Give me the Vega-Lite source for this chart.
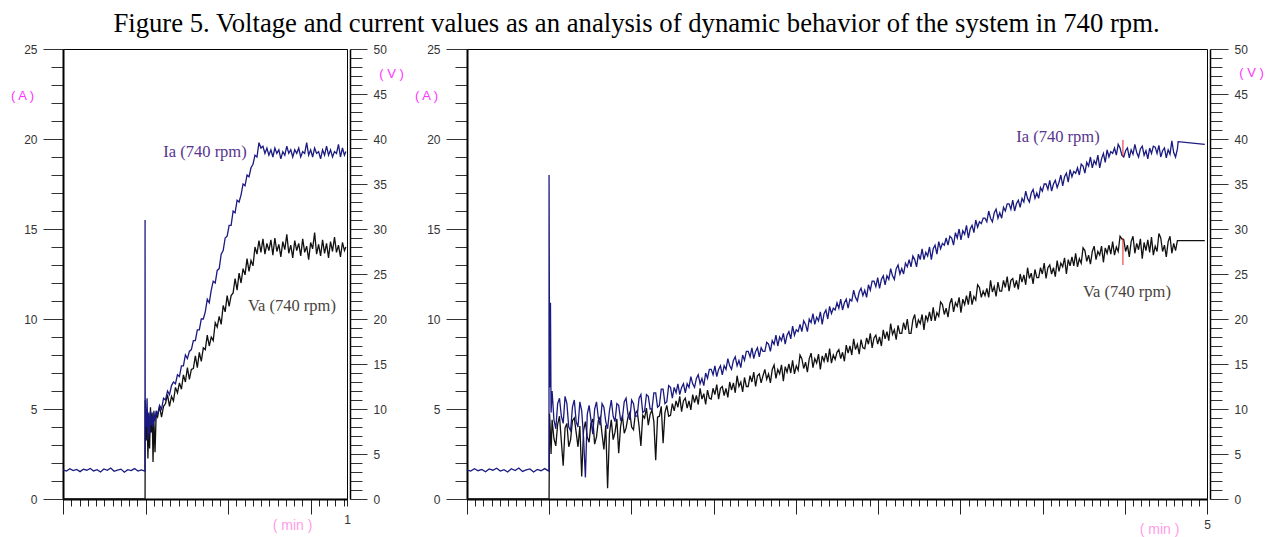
{
"$schema":"https://vega.github.io/schema/vega-lite/v6.json",
"padding":{"left":9,"top":10,"right":2,"bottom":0},
"bounds":"flush",
"spacing":120,
"title":{"text":"Figure 5. Voltage and current values as an analysis of dynamic behavior of the system in 740 rpm.","font":"Liberation Serif","fontSize":26.7,"fontWeight":"normal","color":"#000","anchor":"middle","offset":5},
"config":{"view":{"stroke":"#000","strokeWidth":1},"axis":{"grid":false,"domainColor":"#000","tickColor":"#333","labelColor":"#333","labelFont":"Liberation Sans","labelFontSize":12,"titleFont":"Liberation Sans","titleFontWeight":"normal","labelOverlap":false,"labelFlush":false,"labelBound":false},"line":{"strokeWidth":1.3}},
"datasets":{
"L":[
{"t":0,"i":1.62,"v":0},{"t":0.012,"i":1.55,"v":0},{"t":0.024,"i":1.68,"v":0},{"t":0.036,"i":1.58,"v":0},{"t":0.048,"i":1.64,"v":0},{"t":0.06,"i":1.52,"v":0},{"t":0.072,"i":1.66,"v":0},{"t":0.084,"i":1.6,"v":0},{"t":0.096,"i":1.7,"v":0},{"t":0.108,"i":1.56,"v":0},{"t":0.12,"i":1.63,"v":0},{"t":0.132,"i":1.5,"v":0},{"t":0.144,"i":1.67,"v":0},{"t":0.156,"i":1.59,"v":0},{"t":0.168,"i":1.72,"v":0},{"t":0.18,"i":1.54,"v":0},{"t":0.192,"i":1.61,"v":0},{"t":0.204,"i":1.66,"v":0},{"t":0.216,"i":1.49,"v":0},{"t":0.228,"i":1.63,"v":0},{"t":0.24,"i":1.58,"v":0},{"t":0.252,"i":1.69,"v":0},{"t":0.264,"i":1.55,"v":0},{"t":0.276,"i":1.62,"v":0},{"t":0.2885,"i":1.55,"v":0},
{"t":0.289,"i":15.5,"v":0},{"t":0.2895,"i":5.2,"v":11.0},{"t":0.293,"i":4.0,"v":6.5},{"t":0.296,"i":5.6,"v":9.8},{"t":0.299,"i":3.3,"v":4.5},{"t":0.302,"i":4.8,"v":8.7},{"t":0.305,"i":3.6,"v":5.6},{"t":0.308,"i":4.9,"v":10.2},{"t":0.311,"i":4.1,"v":7.4},{"t":0.314,"i":4.6,"v":9.6},{"t":0.317,"i":4.0,"v":4.1},{"t":0.32,"i":4.9,"v":8.8},{"t":0.324,"i":4.3,"v":5.2},{"t":0.328,"i":4.9,"v":9.4},{"t":0.333,"i":4.7,"v":9.1},
{"t":0.34,"i":5.2,"v":10.3},{"t":0.347,"i":5.0,"v":9.1},{"t":0.354,"i":5.6,"v":10.3},{"t":0.361,"i":5.5,"v":10.6},{"t":0.368,"i":6.0,"v":11.6},{"t":0.375,"i":5.8,"v":10.3},{"t":0.382,"i":6.3,"v":11.4},{"t":0.389,"i":6.5,"v":10.9},{"t":0.396,"i":6.4,"v":12.4},{"t":0.403,"i":6.9,"v":11.8},{"t":0.41,"i":6.8,"v":12.9},{"t":0.417,"i":7.4,"v":12.2},{"t":0.424,"i":7.4,"v":13.8},{"t":0.431,"i":8.0,"v":13.0},{"t":0.438,"i":7.8,"v":14.6},{"t":0.445,"i":8.2,"v":13.3},{"t":0.452,"i":8.3,"v":14.4},{"t":0.459,"i":8.8,"v":14.5},{"t":0.466,"i":8.8,"v":15.9},{"t":0.473,"i":9.4,"v":14.6},{"t":0.48,"i":9.4,"v":16.3},{"t":0.487,"i":10.0,"v":15.3},{"t":0.494,"i":10.0,"v":16.8},{"t":0.501,"i":10.4,"v":16.6},{"t":0.508,"i":11.1,"v":18.2},{"t":0.515,"i":10.9,"v":17.0},{"t":0.522,"i":11.6,"v":18.0},{"t":0.529,"i":12.1,"v":17.6},{"t":0.536,"i":12.0,"v":19.6},{"t":0.543,"i":12.7,"v":19.1},{"t":0.55,"i":12.8,"v":20.3},{"t":0.557,"i":13.6,"v":19.4},{"t":0.564,"i":13.8,"v":21.5},{"t":0.571,"i":14.5,"v":20.8},{"t":0.578,"i":14.6,"v":22.6},{"t":0.585,"i":15.2,"v":21.4},{"t":0.592,"i":15.2,"v":22.6},{"t":0.599,"i":16.0,"v":22.9},{"t":0.606,"i":15.9,"v":24.5},{"t":0.613,"i":16.6,"v":23.2},{"t":0.62,"i":16.5,"v":25.1},{"t":0.627,"i":16.9,"v":24.0},{"t":0.634,"i":17.5,"v":25.6},{"t":0.641,"i":17.4,"v":24.9},{"t":0.648,"i":18.0,"v":26.7},{"t":0.655,"i":17.9,"v":25.3},{"t":0.662,"i":18.4,"v":26.5},{"t":0.669,"i":18.6,"v":25.9},{"t":0.676,"i":19.1,"v":28.0},{"t":0.683,"i":19.0,"v":27.2},{"t":0.69,"i":19.8,"v":28.7},
{"t":0.697,"i":19.5,"v":27.4},{"t":0.704,"i":19.6,"v":28.9},{"t":0.711,"i":19.2,"v":27.2},{"t":0.718,"i":19.5,"v":28.4},{"t":0.725,"i":19.1,"v":27.6},{"t":0.732,"i":19.4,"v":28.8},{"t":0.739,"i":19.0,"v":27.1},{"t":0.746,"i":19.5,"v":29.0},{"t":0.753,"i":19.2,"v":27.5},{"t":0.76,"i":19.4,"v":28.3},{"t":0.767,"i":18.9,"v":26.9},{"t":0.774,"i":19.3,"v":28.6},{"t":0.781,"i":19.1,"v":27.7},{"t":0.788,"i":19.6,"v":29.4},{"t":0.795,"i":19.2,"v":27.3},{"t":0.802,"i":19.4,"v":28.2},{"t":0.809,"i":19.0,"v":26.8},{"t":0.816,"i":19.4,"v":28.7},{"t":0.823,"i":19.2,"v":27.6},{"t":0.83,"i":19.5,"v":28.4},{"t":0.837,"i":19.0,"v":27.0},{"t":0.844,"i":19.3,"v":28.9},{"t":0.851,"i":19.2,"v":27.4},{"t":0.858,"i":19.8,"v":28.1},{"t":0.865,"i":19.1,"v":26.6},{"t":0.872,"i":19.4,"v":28.5},{"t":0.879,"i":19.0,"v":27.8},{"t":0.886,"i":19.5,"v":29.6},{"t":0.893,"i":19.2,"v":27.2},{"t":0.9,"i":19.3,"v":28.3},{"t":0.907,"i":18.9,"v":27.0},{"t":0.914,"i":19.4,"v":28.8},{"t":0.921,"i":19.1,"v":27.3},{"t":0.928,"i":19.6,"v":28.4},{"t":0.935,"i":19.1,"v":26.8},{"t":0.942,"i":19.4,"v":28.6},{"t":0.949,"i":19.0,"v":27.5},{"t":0.956,"i":19.3,"v":29.1},{"t":0.963,"i":19.2,"v":27.4},{"t":0.97,"i":19.7,"v":28.2},{"t":0.977,"i":19.0,"v":26.9},{"t":0.984,"i":19.5,"v":28.5},{"t":0.991,"i":19.1,"v":27.6},{"t":0.996,"i":19.3,"v":28.0}
],
"R":[
{"t":0,"i":1.62,"v":0},{"t":0.025,"i":1.55,"v":0},{"t":0.05,"i":1.68,"v":0},{"t":0.075,"i":1.57,"v":0},{"t":0.1,"i":1.64,"v":0},{"t":0.125,"i":1.51,"v":0},{"t":0.15,"i":1.67,"v":0},{"t":0.175,"i":1.6,"v":0},{"t":0.2,"i":1.71,"v":0},{"t":0.225,"i":1.55,"v":0},{"t":0.25,"i":1.63,"v":0},{"t":0.275,"i":1.5,"v":0},{"t":0.3,"i":1.68,"v":0},{"t":0.325,"i":1.58,"v":0},{"t":0.35,"i":1.72,"v":0},{"t":0.375,"i":1.53,"v":0},{"t":0.4,"i":1.62,"v":0},{"t":0.425,"i":1.67,"v":0},{"t":0.45,"i":1.5,"v":0},{"t":0.475,"i":1.64,"v":0},{"t":0.5,"i":1.57,"v":0},{"t":0.525,"i":1.69,"v":0},{"t":0.55,"i":1.56,"v":0},
{"t":0.554,"i":1.55,"v":0},{"t":0.5545,"i":18.0,"v":0},{"t":0.558,"i":6.2,"v":9.5},{"t":0.564,"i":10.9,"v":7.0},{"t":0.568,"i":4.8,"v":5.0},
{"t":0.575,"i":6.0,"v":8.8},{"t":0.5875,"i":4.4,"v":6.7},{"t":0.6,"i":3.9,"v":5.9},{"t":0.6125,"i":5.3,"v":8.3},{"t":0.625,"i":5.6,"v":9.2},{"t":0.6375,"i":4.6,"v":6.4},{"t":0.65,"i":4.2,"v":3.7},{"t":0.6625,"i":5.7,"v":7.9},{"t":0.675,"i":5.3,"v":8.4},{"t":0.6875,"i":4.0,"v":5.8},{"t":0.7,"i":3.8,"v":6.6},{"t":0.7125,"i":5.1,"v":8.7},{"t":0.725,"i":5.5,"v":9.0},{"t":0.7375,"i":4.3,"v":7.4},{"t":0.75,"i":4.0,"v":5.8},{"t":0.7625,"i":5.4,"v":8.1},{"t":0.775,"i":4.9,"v":2.5},{"t":0.7875,"i":3.4,"v":7.6},{"t":0.8,"i":1.2,"v":8.6},{"t":0.8125,"i":4.7,"v":6.9},{"t":0.825,"i":5.2,"v":6.3},{"t":0.8375,"i":4.4,"v":8.4},{"t":0.85,"i":3.6,"v":8.9},{"t":0.8625,"i":5.0,"v":6.1},{"t":0.875,"i":5.4,"v":6.9},{"t":0.8875,"i":4.5,"v":8.7},{"t":0.9,"i":4.1,"v":9.1},{"t":0.9125,"i":5.3,"v":7.2},{"t":0.925,"i":5.1,"v":5.5},{"t":0.9375,"i":4.3,"v":8.2},{"t":0.95,"i":3.9,"v":1.2},{"t":0.9625,"i":4.9,"v":7.3},{"t":0.975,"i":5.5,"v":8.8},{"t":0.9875,"i":4.6,"v":6.6},{"t":1.0,"i":4.3,"v":7.4},{"t":1.0125,"i":5.3,"v":8.9},{"t":1.025,"i":5.2,"v":5.1},{"t":1.0375,"i":4.4,"v":8.0},{"t":1.05,"i":4.5,"v":9.3},{"t":1.0625,"i":5.4,"v":7.3},{"t":1.075,"i":5.6,"v":7.9},{"t":1.0875,"i":4.7,"v":9.1},{"t":1.1,"i":4.4,"v":9.6},{"t":1.1125,"i":5.5,"v":8.0},{"t":1.125,"i":5.3,"v":7.7},{"t":1.1375,"i":4.6,"v":9.5},{"t":1.15,"i":4.6,"v":9.8},{"t":1.1625,"i":5.6,"v":8.1},{"t":1.175,"i":5.8,"v":5.9},{"t":1.1875,"i":4.8,"v":9.3},{"t":1.2,"i":4.9,"v":9.0},{"t":1.2125,"i":5.8,"v":10.1},{"t":1.225,"i":5.7,"v":8.2},{"t":1.2375,"i":5.0,"v":9.4},{"t":1.25,"i":5.0,"v":9.9},{"t":1.2625,"i":5.9,"v":8.6},{"t":1.275,"i":5.9,"v":4.3},{"t":1.2875,"i":5.1,"v":9.1},{"t":1.3,"i":5.2,"v":9.2},{"t":1.3125,"i":6.1,"v":10.3},{"t":1.325,"i":6.1,"v":6.2},{"t":1.3375,"i":5.3,"v":9.6},{"t":1.35,"i":5.4,"v":10.4},{"t":1.3625,"i":6.3,"v":9.2},{"t":1.375,"i":6.2,"v":9.3},{"t":1.3875,"i":5.6,"v":10.6},
{"t":1.4,"i":6.2,"v":9.8},{"t":1.4125,"i":5.9,"v":10.9},{"t":1.425,"i":6.4,"v":10.2},{"t":1.4375,"i":5.8,"v":11.4},{"t":1.45,"i":6.2,"v":9.7},{"t":1.4625,"i":6.4,"v":10.9},{"t":1.475,"i":5.9,"v":11.2},{"t":1.4875,"i":6.4,"v":10.1},{"t":1.5,"i":6.2,"v":10.9},{"t":1.5125,"i":6.8,"v":9.9},{"t":1.525,"i":6.4,"v":11.6},{"t":1.5375,"i":6.2,"v":10.7},{"t":1.55,"i":6.7,"v":11.5},{"t":1.5625,"i":6.9,"v":10.5},{"t":1.575,"i":6.4,"v":12.3},{"t":1.5875,"i":6.7,"v":11.1},{"t":1.6,"i":6.3,"v":11.7},{"t":1.6125,"i":7.0,"v":10.5},{"t":1.625,"i":6.7,"v":12.1},{"t":1.6375,"i":7.2,"v":11.2},{"t":1.65,"i":7.2,"v":11.1},{"t":1.6625,"i":6.9,"v":12.3},{"t":1.675,"i":7.4,"v":11.6},{"t":1.6875,"i":6.8,"v":12.7},{"t":1.7,"i":7.2,"v":11.1},{"t":1.7125,"i":7.4,"v":12.3},{"t":1.725,"i":6.9,"v":12.5},{"t":1.7375,"i":7.4,"v":11.5},{"t":1.75,"i":7.2,"v":12.3},{"t":1.7625,"i":7.8,"v":11.3},{"t":1.775,"i":7.4,"v":13.0},{"t":1.7875,"i":7.2,"v":12.1},{"t":1.8,"i":7.7,"v":12.9},{"t":1.8125,"i":7.9,"v":11.8},{"t":1.825,"i":7.4,"v":13.7},{"t":1.8375,"i":7.7,"v":12.5},{"t":1.85,"i":7.3,"v":13.0},{"t":1.8625,"i":8.0,"v":11.9},{"t":1.875,"i":7.7,"v":13.5},{"t":1.8875,"i":8.2,"v":12.5},{"t":1.9,"i":8.2,"v":12.5},{"t":1.9125,"i":7.9,"v":13.7},{"t":1.925,"i":8.4,"v":13.0},{"t":1.9375,"i":7.8,"v":14.1},{"t":1.95,"i":8.2,"v":12.5},{"t":1.9625,"i":8.4,"v":13.7},{"t":1.975,"i":7.9,"v":13.9},{"t":1.9875,"i":8.4,"v":12.9},{"t":2.0,"i":8.2,"v":13.7},
{"t":2.0125,"i":8.2,"v":14.4},{"t":2.025,"i":8.7,"v":13.3},{"t":2.0375,"i":8.6,"v":13.9},{"t":2.05,"i":8.2,"v":12.9},{"t":2.0625,"i":8.8,"v":14.4},{"t":2.075,"i":8.6,"v":14.9},{"t":2.0875,"i":9.1,"v":13.4},{"t":2.1,"i":8.5,"v":14.4},{"t":2.1125,"i":9.0,"v":13.9},{"t":2.125,"i":8.8,"v":14.9},{"t":2.1375,"i":9.2,"v":13.1},{"t":2.15,"i":8.6,"v":14.7},{"t":2.1625,"i":9.1,"v":14.1},{"t":2.175,"i":9.3,"v":15.0},{"t":2.1875,"i":8.9,"v":14.0},{"t":2.2,"i":9.6,"v":15.4},{"t":2.2125,"i":9.1,"v":13.9},{"t":2.225,"i":9.4,"v":14.8},{"t":2.2375,"i":9.3,"v":14.3},{"t":2.25,"i":9.7,"v":16.0},{"t":2.2625,"i":9.3,"v":15.6},{"t":2.275,"i":9.9,"v":14.5},{"t":2.2875,"i":9.7,"v":15.2},{"t":2.3,"i":9.3,"v":14.1},{"t":2.3125,"i":10.0,"v":15.6},{"t":2.325,"i":9.8,"v":16.2},{"t":2.3375,"i":10.3,"v":14.6},{"t":2.35,"i":9.7,"v":15.6},{"t":2.3625,"i":10.1,"v":15.1},{"t":2.375,"i":9.9,"v":16.1},{"t":2.3875,"i":10.4,"v":14.4},{"t":2.4,"i":9.7,"v":15.9},{"t":2.4125,"i":10.3,"v":15.3},{"t":2.425,"i":10.5,"v":16.2},{"t":2.4375,"i":10.0,"v":15.2},{"t":2.45,"i":10.7,"v":16.7},{"t":2.4625,"i":10.3,"v":15.1},{"t":2.475,"i":10.6,"v":16.0},{"t":2.4875,"i":10.5,"v":15.5},
{"t":2.5,"i":10.9,"v":16.3},{"t":2.5125,"i":10.6,"v":16.6},{"t":2.525,"i":11.1,"v":15.6},{"t":2.5375,"i":10.5,"v":16.3},{"t":2.55,"i":10.9,"v":15.3},{"t":2.5625,"i":11.1,"v":17.1},{"t":2.575,"i":10.6,"v":16.2},{"t":2.5875,"i":11.1,"v":17.0},{"t":2.6,"i":11.0,"v":16.0},{"t":2.6125,"i":11.6,"v":17.8},{"t":2.625,"i":11.2,"v":16.6},{"t":2.6375,"i":11.0,"v":17.2},{"t":2.65,"i":11.5,"v":16.1},{"t":2.6625,"i":11.7,"v":17.7},{"t":2.675,"i":11.3,"v":16.8},{"t":2.6875,"i":11.6,"v":16.7},{"t":2.7,"i":11.2,"v":17.9},{"t":2.7125,"i":11.9,"v":17.2},{"t":2.725,"i":11.6,"v":18.4},{"t":2.7375,"i":12.1,"v":16.8},{"t":2.75,"i":12.1,"v":17.9},{"t":2.7625,"i":11.8,"v":18.2},{"t":2.775,"i":12.3,"v":17.2},{"t":2.7875,"i":11.7,"v":18.0},{"t":2.8,"i":12.2,"v":17.0},{"t":2.8125,"i":12.4,"v":18.8},{"t":2.825,"i":11.9,"v":17.8},{"t":2.8375,"i":12.4,"v":18.6},{"t":2.85,"i":12.2,"v":17.6},{"t":2.8625,"i":12.8,"v":19.5},{"t":2.875,"i":12.4,"v":18.3},{"t":2.8875,"i":12.2,"v":18.8},{"t":2.9,"i":12.8,"v":17.7},{"t":2.9125,"i":13.0,"v":19.3},{"t":2.925,"i":12.5,"v":18.4},{"t":2.9375,"i":12.8,"v":18.4},{"t":2.95,"i":12.5,"v":19.6},{"t":2.9625,"i":13.1,"v":18.8},{"t":2.975,"i":12.9,"v":20.0},{"t":2.9875,"i":13.3,"v":18.4},
{"t":3.0,"i":12.9,"v":18.4},{"t":3.0125,"i":13.5,"v":19.9},{"t":3.025,"i":13.3,"v":20.5},{"t":3.0375,"i":12.9,"v":19.0},{"t":3.05,"i":13.6,"v":19.9},{"t":3.0625,"i":13.3,"v":19.5},{"t":3.075,"i":13.9,"v":20.5},{"t":3.0875,"i":13.3,"v":18.8},{"t":3.1,"i":13.7,"v":20.4},{"t":3.1125,"i":13.5,"v":19.8},{"t":3.125,"i":14.0,"v":20.8},{"t":3.1375,"i":13.3,"v":19.8},{"t":3.15,"i":13.9,"v":21.3},{"t":3.1625,"i":14.1,"v":19.8},{"t":3.175,"i":13.6,"v":20.7},{"t":3.1875,"i":14.3,"v":20.3},{"t":3.2,"i":13.9,"v":21.9},{"t":3.2125,"i":14.2,"v":21.6},{"t":3.225,"i":14.1,"v":20.5},{"t":3.2375,"i":14.5,"v":21.2},{"t":3.25,"i":14.1,"v":20.2},{"t":3.2625,"i":14.6,"v":21.7},{"t":3.275,"i":14.5,"v":22.3},{"t":3.2875,"i":14.1,"v":20.8},{"t":3.3,"i":14.8,"v":21.8},{"t":3.3125,"i":14.5,"v":21.4},{"t":3.325,"i":15.0,"v":22.4},{"t":3.3375,"i":14.4,"v":20.7},{"t":3.35,"i":14.9,"v":22.2},{"t":3.3625,"i":14.7,"v":21.6},{"t":3.375,"i":15.2,"v":22.6},{"t":3.3875,"i":14.5,"v":21.6},{"t":3.4,"i":15.0,"v":23.1},{"t":3.4125,"i":15.2,"v":21.6},{"t":3.425,"i":14.8,"v":22.5},{"t":3.4375,"i":15.5,"v":22.1},{"t":3.45,"i":15.1,"v":23.8},{"t":3.4625,"i":15.4,"v":23.5},{"t":3.475,"i":15.3,"v":22.4},{"t":3.4875,"i":15.6,"v":23.1},
{"t":3.5,"i":15.6,"v":22.6},{"t":3.5125,"i":15.4,"v":23.4},{"t":3.525,"i":16.0,"v":22.4},{"t":3.5375,"i":15.6,"v":24.3},{"t":3.55,"i":15.4,"v":23.0},{"t":3.5625,"i":15.9,"v":23.6},{"t":3.575,"i":16.1,"v":22.5},{"t":3.5875,"i":15.6,"v":24.1},{"t":3.6,"i":15.9,"v":23.1},{"t":3.6125,"i":15.6,"v":23.1},{"t":3.625,"i":16.2,"v":24.3},{"t":3.6375,"i":16.0,"v":23.5},{"t":3.65,"i":16.4,"v":24.7},{"t":3.6625,"i":16.4,"v":23.1},{"t":3.675,"i":16.1,"v":24.3},{"t":3.6875,"i":16.6,"v":24.5},{"t":3.7,"i":16.0,"v":23.5},{"t":3.7125,"i":16.4,"v":24.3},{"t":3.725,"i":16.6,"v":23.3},{"t":3.7375,"i":16.2,"v":25.0},{"t":3.75,"i":16.7,"v":24.1},{"t":3.7625,"i":16.5,"v":24.9},{"t":3.775,"i":17.1,"v":23.8},{"t":3.7875,"i":16.7,"v":25.7},{"t":3.8,"i":16.5,"v":24.5},{"t":3.8125,"i":17.0,"v":25.1},{"t":3.825,"i":17.2,"v":23.9},{"t":3.8375,"i":16.7,"v":25.5},{"t":3.85,"i":17.0,"v":24.6},{"t":3.8625,"i":16.7,"v":24.6},{"t":3.875,"i":17.3,"v":25.7},{"t":3.8875,"i":17.1,"v":25.0},{"t":3.9,"i":17.5,"v":26.2},{"t":3.9125,"i":17.5,"v":24.5},{"t":3.925,"i":17.2,"v":25.7},{"t":3.9375,"i":17.7,"v":26.0},{"t":3.95,"i":17.1,"v":25.0},{"t":3.9625,"i":17.5,"v":25.7},{"t":3.975,"i":17.7,"v":24.7},{"t":3.9875,"i":17.3,"v":26.5},
{"t":4.0,"i":17.6,"v":25.3},{"t":4.0125,"i":18.0,"v":26.2},{"t":4.025,"i":17.4,"v":25.8},{"t":4.0375,"i":17.9,"v":26.8},{"t":4.05,"i":18.1,"v":25.0},{"t":4.0625,"i":17.6,"v":26.6},{"t":4.075,"i":18.3,"v":25.9},{"t":4.0875,"i":17.9,"v":26.9},{"t":4.1,"i":18.2,"v":25.9},{"t":4.1125,"i":18.1,"v":27.3},{"t":4.125,"i":18.4,"v":25.8},{"t":4.1375,"i":18.0,"v":26.7},{"t":4.15,"i":18.6,"v":26.2},{"t":4.1625,"i":18.5,"v":27.9},{"t":4.175,"i":18.1,"v":27.6},{"t":4.1875,"i":18.7,"v":26.4},{"t":4.2,"i":18.5,"v":27.1},{"t":4.2125,"i":19.0,"v":26.1},{"t":4.225,"i":18.4,"v":27.5},{"t":4.2375,"i":18.8,"v":28.1},{"t":4.25,"i":18.6,"v":26.6},{"t":4.2625,"i":19.1,"v":27.5},{"t":4.275,"i":18.4,"v":27.1},{"t":4.2875,"i":18.9,"v":28.1},{"t":4.3,"i":19.2,"v":26.3},{"t":4.3125,"i":18.7,"v":27.9},{"t":4.325,"i":19.4,"v":27.3},{"t":4.3375,"i":19.0,"v":28.2},{"t":4.35,"i":19.3,"v":27.2},{"t":4.3625,"i":19.2,"v":28.6},{"t":4.375,"i":19.5,"v":27.1},{"t":4.3875,"i":19.1,"v":28.0},{"t":4.4,"i":19.7,"v":27.5},{"t":4.4125,"i":19.5,"v":29.2},{"t":4.425,"i":19.1,"v":28.9},
{"t":4.4375,"i":19.0,"v":28.8},{"t":4.45,"i":19.35,"v":27.5},{"t":4.4625,"i":19.5,"v":28.2},{"t":4.475,"i":18.95,"v":26.9},{"t":4.4875,"i":19.4,"v":28.6},{"t":4.5,"i":19.15,"v":29.2},{"t":4.5125,"i":19.7,"v":27.3},{"t":4.525,"i":19.25,"v":28.4},{"t":4.5375,"i":19.0,"v":27.7},{"t":4.55,"i":19.45,"v":28.9},{"t":4.5625,"i":19.6,"v":26.7},{"t":4.575,"i":19.1,"v":28.5},{"t":4.5875,"i":19.35,"v":27.6},{"t":4.6,"i":18.9,"v":28.8},{"t":4.6125,"i":19.5,"v":27.4},{"t":4.625,"i":19.2,"v":29.1},{"t":4.6375,"i":19.6,"v":27.1},{"t":4.65,"i":19.55,"v":28.1},{"t":4.6625,"i":19.2,"v":27.5},{"t":4.675,"i":19.65,"v":29.5},{"t":4.6875,"i":19.0,"v":29.0},{"t":4.7,"i":19.35,"v":27.5},{"t":4.7125,"i":19.5,"v":28.2},{"t":4.725,"i":18.95,"v":26.9},{"t":4.7375,"i":19.4,"v":28.6},{"t":4.75,"i":19.15,"v":29.2},{"t":4.7625,"i":19.9,"v":27.3},{"t":4.775,"i":19.25,"v":28.4},{"t":4.7875,"i":19.0,"v":27.6},{"t":4.8,"i":19.45,"v":28.7},{"t":4.805,"i":19.85,"v":28.7},{"t":4.985,"i":19.7,"v":28.7}
]
},
"hconcat":[
{
"width":284,"height":450,
"data":{"name":"L"},
"resolve":{"scale":{"y":"independent"},"axis":{"y":"independent"}},
"layer":[
{"mark":{"type":"line","color":"#111111"},
 "encoding":{
  "x":{"field":"t","type":"quantitative","scale":{"domain":[0,1],"nice":false,"zero":false},
   "axis":{"tickCount":500,"values":[0,0.02905,0.0581,0.08715,0.1162,0.14525,0.1743,0.20335,0.2324,0.26145,0.2905,0.31955,0.3486,0.37765,0.4067,0.43575,0.4648,0.49385,0.5229,0.55195,0.581,0.61005,0.6391,0.66815,0.6972,0.72625,0.7553,0.78435,0.8134,0.84245,0.8715,0.90055,0.9296,0.95865,0.9877,1],
    "tickSize":{"condition":{"test":"indexof([0,0.2905,0.581,0.8715],datum.value)>=0","value":15},"value":7},
    "labelExpr":"datum.value==1?'1':''","domainWidth":2,"tickColor":"#222","labelPadding":8,"labelAlign":"center",
    "title":"( min )","titleColor":"#ff9be6","titleFontSize":14,"titleX":229,"titleY":26,"titleAlign":"center","titleBaseline":"middle"}},
  "y":{"field":"v","type":"quantitative","scale":{"domain":[0,50],"nice":false},
   "axis":{"orient":"right","offset":3,"values":[0,1,2,3,4,5,6,7,8,9,10,11,12,13,14,15,16,17,18,19,20,21,22,23,24,25,26,27,28,29,30,31,32,33,34,35,36,37,38,39,40,41,42,43,44,45,46,47,48,49,50],
    "tickSize":{"condition":{"test":"datum.value%5===0","value":17},"value":12},
    "labelExpr":"datum.value%5===0?datum.label:''","domainWidth":1.5,"labelPadding":6,"labelBaseline":"middle",
    "title":"( V )","titleColor":"#ff33ff","titleFontSize":13,"titleAngle":0,"titleX":41,"titleY":24,"titleAlign":"center","titleBaseline":"middle"}}}},
{"mark":{"type":"line","color":"#1a1a80"},
 "encoding":{
  "x":{"field":"t","type":"quantitative","scale":{"domain":[0,1],"nice":false,"zero":false}},
  "y":{"field":"i","type":"quantitative","scale":{"domain":[0,25],"nice":false},
   "axis":{"orient":"left","values":[0,1,2,3,4,5,6,7,8,9,10,11,12,13,14,15,16,17,18,19,20,21,22,23,24,25],
    "tickSize":{"condition":{"test":"datum.value%5===0","value":20},"value":12},
    "labelExpr":"datum.value%5===0?datum.label:''","domainWidth":2,"labelPadding":6,"labelBaseline":"middle",
    "title":"( A )","titleColor":"#ff33ff","titleFontSize":13,"titleAngle":0,"titleX":-41,"titleY":46,"titleAlign":"center","titleBaseline":"middle"}}}},
{"data":{"values":[{"t":0.5,"i":19.3,"txt":"Ia (740 rpm)"}]},
 "mark":{"type":"text","font":"Liberation Serif","fontSize":16.5,"color":"#58348e","align":"center","baseline":"middle"},
 "encoding":{"x":{"field":"t","type":"quantitative","scale":{"domain":[0,1],"nice":false,"zero":false}},"y":{"field":"i","type":"quantitative","scale":{"domain":[0,25],"nice":false},"axis":null},"text":{"field":"txt"}}},
{"data":{"values":[{"t":0.806,"v":21.4,"txt":"Va (740 rpm)"}]},
 "mark":{"type":"text","font":"Liberation Serif","fontSize":16.5,"color":"#4a423c","align":"center","baseline":"middle"},
 "encoding":{"x":{"field":"t","type":"quantitative","scale":{"domain":[0,1],"nice":false,"zero":false}},"y":{"field":"v","type":"quantitative","scale":{"domain":[0,50],"nice":false},"axis":null},"text":{"field":"txt"}}}
]
},
{
"width":740,"height":450,
"data":{"name":"R"},
"resolve":{"scale":{"y":"independent"},"axis":{"y":"independent"}},
"layer":[
{"mark":{"type":"line","color":"#111111"},
 "encoding":{
  "x":{"field":"t","type":"quantitative","scale":{"domain":[0,5],"nice":false,"zero":false},
   "axis":{"tickCount":500,"values":[0,0.0556,0.1111,0.1667,0.2222,0.2778,0.3333,0.3889,0.4444,0.5,0.5556,0.6111,0.6667,0.7222,0.7778,0.8333,0.8889,0.9444,1,1.0556,1.1111,1.1667,1.2222,1.2778,1.3333,1.3889,1.4444,1.5,1.5556,1.6111,1.6667,1.7222,1.7778,1.8333,1.8889,1.9444,2,2.0556,2.1111,2.1667,2.2222,2.2778,2.3333,2.3889,2.4444,2.5,2.5556,2.6111,2.6667,2.7222,2.7778,2.8333,2.8889,2.9444,3,3.0556,3.1111,3.1667,3.2222,3.2778,3.3333,3.3889,3.4444,3.5,3.5556,3.6111,3.6667,3.7222,3.7778,3.8333,3.8889,3.9444,4,4.0556,4.1111,4.1667,4.2222,4.2778,4.3333,4.3889,4.4444,4.5,4.5556,4.6111,4.6667,4.7222,4.7778,4.8333,4.8889,4.9444,5],
    "tickSize":{"condition":{"test":"indexof([0,0.5556,1.1111,1.6667,2.2222,2.7778,3.3333,3.8889,4.4444,5],datum.value)>=0","value":15},"value":7},
    "labelExpr":"datum.value==5?'5':''","domainWidth":2,"tickColor":"#222","labelPadding":5,"labelAlign":"center",
    "title":"( min )","titleColor":"#ff9be6","titleFontSize":14,"titleX":692,"titleY":30,"titleAlign":"center","titleBaseline":"middle"}},
  "y":{"field":"v","type":"quantitative","scale":{"domain":[0,50],"nice":false},
   "axis":{"orient":"right","offset":3,"values":[0,1,2,3,4,5,6,7,8,9,10,11,12,13,14,15,16,17,18,19,20,21,22,23,24,25,26,27,28,29,30,31,32,33,34,35,36,37,38,39,40,41,42,43,44,45,46,47,48,49,50],
    "tickSize":{"condition":{"test":"datum.value%5===0","value":18},"value":12},
    "labelExpr":"datum.value%5===0?datum.label:''","domainWidth":1.5,"labelPadding":6,"labelBaseline":"middle",
    "title":"( V )","titleColor":"#ff33ff","titleFontSize":13,"titleAngle":0,"titleX":41,"titleY":23,"titleAlign":"center","titleBaseline":"middle"}}}},
{"mark":{"type":"line","color":"#1a1a80"},
 "encoding":{
  "x":{"field":"t","type":"quantitative","scale":{"domain":[0,5],"nice":false,"zero":false}},
  "y":{"field":"i","type":"quantitative","scale":{"domain":[0,25],"nice":false},
   "axis":{"orient":"left","values":[0,1,2,3,4,5,6,7,8,9,10,11,12,13,14,15,16,17,18,19,20,21,22,23,24,25],
    "tickSize":{"condition":{"test":"datum.value%5===0","value":21},"value":12},
    "labelExpr":"datum.value%5===0?datum.label:''","domainWidth":2,"labelPadding":6,"labelBaseline":"middle",
    "title":"( A )","titleColor":"#ff33ff","titleFontSize":13,"titleAngle":0,"titleX":-41,"titleY":46,"titleAlign":"center","titleBaseline":"middle"}}}},
{"data":{"values":[{"t":4.432,"a":19.05,"b":19.95}]},
 "mark":{"type":"rule","color":"#e8232a","strokeWidth":1},
 "encoding":{"x":{"field":"t","type":"quantitative","scale":{"domain":[0,5],"nice":false,"zero":false}},"y":{"field":"a","type":"quantitative","scale":{"domain":[0,25],"nice":false},"axis":null},"y2":{"field":"b"}}},
{"data":{"values":[{"t":4.432,"a":26.0,"b":29.0}]},
 "mark":{"type":"rule","color":"#e8232a","strokeWidth":1},
 "encoding":{"x":{"field":"t","type":"quantitative","scale":{"domain":[0,5],"nice":false,"zero":false}},"y":{"field":"a","type":"quantitative","scale":{"domain":[0,50],"nice":false},"axis":null},"y2":{"field":"b"}}},
{"data":{"values":[{"t":3.993,"i":20.1,"txt":"Ia (740 rpm)"}]},
 "mark":{"type":"text","font":"Liberation Serif","fontSize":16.5,"color":"#58348e","align":"center","baseline":"middle"},
 "encoding":{"x":{"field":"t","type":"quantitative","scale":{"domain":[0,5],"nice":false,"zero":false}},"y":{"field":"i","type":"quantitative","scale":{"domain":[0,25],"nice":false},"axis":null},"text":{"field":"txt"}}},
{"data":{"values":[{"t":4.459,"v":23.0,"txt":"Va (740 rpm)"}]},
 "mark":{"type":"text","font":"Liberation Serif","fontSize":16.5,"color":"#4a423c","align":"center","baseline":"middle"},
 "encoding":{"x":{"field":"t","type":"quantitative","scale":{"domain":[0,5],"nice":false,"zero":false}},"y":{"field":"v","type":"quantitative","scale":{"domain":[0,50],"nice":false},"axis":null},"text":{"field":"txt"}}}
]
}
]
}
